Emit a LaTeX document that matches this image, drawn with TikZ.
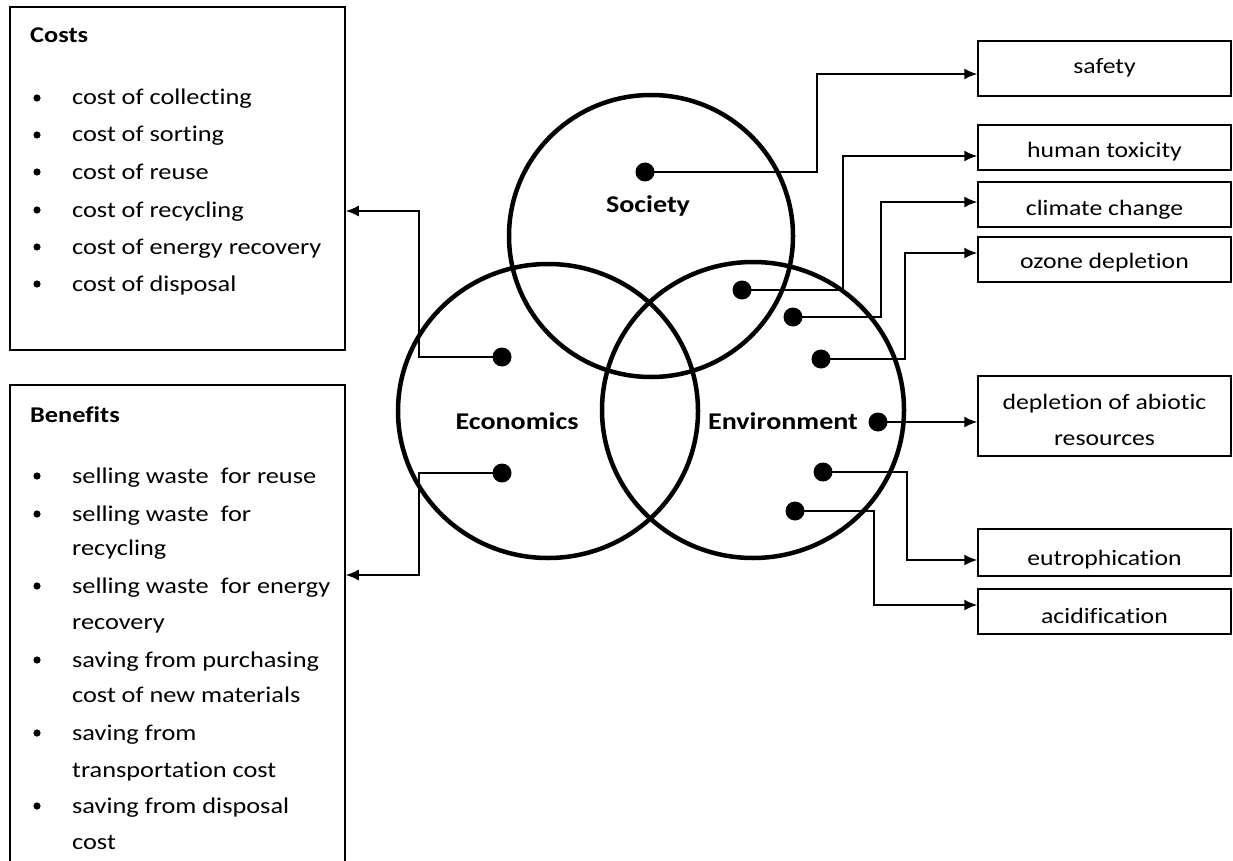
\documentclass[tikz,border=0pt]{standalone}
\usepackage{fontspec}
\setmainfont{Carlito}[FakeStretch=1.17,Ligatures=NoCommon]
\usetikzlibrary{arrows.meta}
\begin{document}
\begin{tikzpicture}[x=1pt,y=-1pt,
  box/.style={draw, line width=1.5pt, inner sep=0pt},
  dotn/.style={circle, fill=black, inner sep=0pt, minimum size=19pt},
  conn/.style={line width=1.6pt, -{Latex[length=13pt,width=11pt]}},
  ring/.style={line width=4.5pt},
  itm/.style={anchor=base west, inner sep=0pt, font=\fontsize{22.5}{26}\selectfont},
  ttl/.style={anchor=base west, inner sep=0pt, font=\fontsize{22.5}{26}\selectfont\bfseries},
  rtx/.style={anchor=base, inner sep=0pt, font=\fontsize{22}{26}\selectfont},
  lbl/.style={inner sep=0pt, font=\fontsize{24}{28}\selectfont\bfseries},
  bul/.style={fill=black}]
\clip (0,0) rectangle (1233,861);
\useasboundingbox (0,0) rectangle (1233,861);

% left boxes
\node[box, minimum width=335pt, minimum height=343pt] (costs) at (177.5,178.5) {};
\node[box, minimum width=335pt, minimum height=495pt] (benef) at (177.5,632.5) {};

\node[ttl] (tc) at (30,43) {Costs};
\foreach \yy/\tt [count=\i] in {105/cost of collecting,142/cost of sorting,179/cost of reuse,217/cost of recycling,254/cost of energy recovery,291/cost of disposal}{
  \fill[bul] (37,\yy-7) circle (3.6);
  \node[itm] (c\i) at (72,\yy) {\tt};
}
\node[ttl] (tb) at (30,422) {Benefits};
\foreach \yy/\tt [count=\i] in {483/selling waste\ \ for reuse,521/selling waste\ \ for,555/recycling,593/selling waste\ \ for energy,629/recovery,667/saving from purchasing,702/cost of new materials,740/saving from,777/transportation cost,813/saving from disposal,849/cost}{
  \node[itm] (b\i) at (72,\yy) {\tt};
}
\foreach \yy in {483,521,593,667,740,813}{\fill[bul] (37,\yy-7) circle (3.6);}

% right boxes
\node[box, minimum width=253pt, minimum height=55pt] (safety) at (1104.5,68.5) {};
\node[box, minimum width=253pt, minimum height=45pt] (human) at (1104.5,147.5) {};
\node[box, minimum width=253pt, minimum height=45pt] (climate) at (1104.5,204.5) {};
\node[box, minimum width=253pt, minimum height=45pt] (ozone) at (1104.5,259.5) {};
\node[box, minimum width=253pt, minimum height=80pt] (depl) at (1104.5,416) {};
\node[box, minimum width=253pt, minimum height=47pt] (eutro) at (1104.5,552.5) {};
\node[box, minimum width=253pt, minimum height=45pt] (acid) at (1104.5,611.5) {};

\node[rtx] (tsafety) at (1104.5,74) {safety};
\node[rtx] (thuman) at (1104.5,158) {human toxicity};
\node[rtx] (tclimate) at (1104.5,215) {climate change};
\node[rtx] (tozone) at (1104.5,268) {ozone depletion};
\node[rtx] (tdepl1) at (1104.5,409) {depletion of abiotic};
\node[rtx] (tdepl2) at (1104.5,445) {resources};
\node[rtx] (teutro) at (1104.5,565) {eutrophication};
\node[rtx] (tacid) at (1104.5,623) {acidification};

% circles
\draw[ring] (651,236) ellipse [x radius=142, y radius=141];
\draw[ring] (548,411) ellipse [x radius=150, y radius=147];
\draw[ring] (753,410) ellipse [x radius=151, y radius=148];

\node[lbl] (lsoc) at (648,206) {Society};
\node[lbl] (leco) at (517,421) {Economics};
\node[lbl] (lenv) at (783,421) {Environment};

% dots
\coordinate (ps) at (645,172);
\coordinate (pe1) at (502,357);
\coordinate (pe2) at (502,473);
\coordinate (pv1) at (742,290);
\coordinate (pv2) at (793,317);
\coordinate (pv3) at (821,359);
\coordinate (pv4) at (878,422);
\coordinate (pv5) at (823,472);
\coordinate (pv6) at (795,511);

% connectors
\draw[conn] (ps) -- ++(172,0) |- ([yshift=-5.5pt]safety.west);
\draw[conn] (pv1) -- ++(101,0) |- ([yshift=-8.5pt]human.west);
\draw[conn] (pv2) -- ++(88,0) |- ([yshift=2.5pt]climate.west);
\draw[conn] (pv3) -- ++(84,0) |- ([yshift=6.5pt]ozone.west);
\draw[conn] (pv4) -- (pv4 -| depl.west);
\draw[conn] (pv5) -- ++(84,0) |- ([yshift=-7.5pt]eutro.west);
\draw[conn] (pv6) -- ++(79,0) |- ([yshift=6.5pt]acid.west);
\draw[conn] (pe1) -- ++(-83,0) |- ([yshift=-32.5pt]costs.east);
\draw[conn] (pe2) -- ++(-83,0) |- ([yshift=57.5pt]benef.east);

\foreach \p in {ps,pe1,pe2,pv1,pv2,pv3,pv4,pv5,pv6}{\node[dotn] (d\p) at (\p) {};}
\end{tikzpicture}
\end{document}
